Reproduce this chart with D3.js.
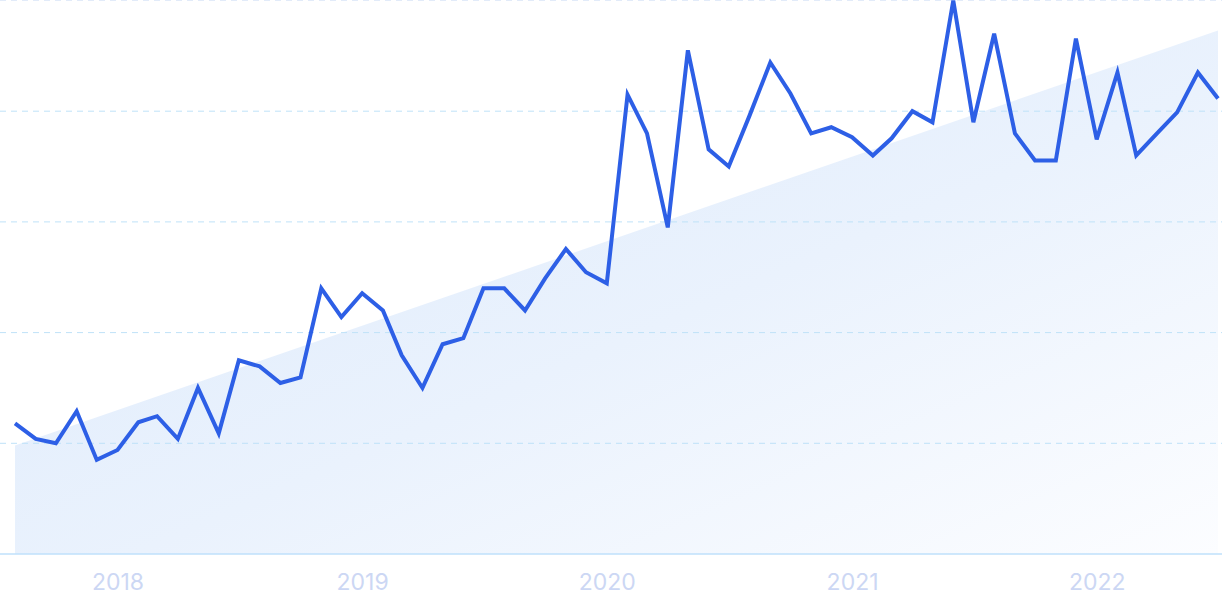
<!DOCTYPE html>
<html>
<head>
<meta charset="utf-8">
<script src="https://cdn.jsdelivr.net/npm/d3@7"></script>
<style>
  html, body { margin: 0; padding: 0; background: #ffffff; }
  svg { display: block; }
</style>
</head>
<body>
<svg id="chart" width="1222" height="610"></svg>
<script>
// ---- data ----
const months = [
  "2017-08","2017-09","2017-10","2017-11","2017-12",
  "2018-01","2018-02","2018-03","2018-04","2018-05","2018-06","2018-07","2018-08","2018-09","2018-10","2018-11","2018-12",
  "2019-01","2019-02","2019-03","2019-04","2019-05","2019-06","2019-07","2019-08","2019-09","2019-10","2019-11","2019-12",
  "2020-01","2020-02","2020-03","2020-04","2020-05","2020-06","2020-07","2020-08","2020-09","2020-10","2020-11","2020-12",
  "2021-01","2021-02","2021-03","2021-04","2021-05","2021-06","2021-07","2021-08","2021-09","2021-10","2021-11","2021-12",
  "2022-01","2022-02","2022-03","2022-04","2022-05","2022-06","2022-07"
];
const values = [
  23.6, 20.8, 20.0, 25.8, 17.0,
  18.8, 23.8, 24.9, 20.8, 30.0, 21.8, 35.0, 33.9, 30.9, 31.9, 48.0, 42.8,
  47.1, 44.0, 35.9, 30.0, 37.9, 39.0, 48.0, 48.0, 44.0, 49.8, 55.1, 50.9,
  48.9, 83.0, 76.0, 59.0, 91.0, 73.1, 70.0, 79.2, 88.8, 83.2, 76.0, 77.1,
  75.3, 72.0, 75.1, 80.0, 78.0, 100, 78.0, 94.0, 76.0, 71.1, 71.1, 93.1,
  74.9, 87.0, 72.0, 76.0, 79.8, 87.0, 82.3
];
const trendMonths = ["2017-08", "2022-07"];
const trendValues = [19.6, 94.6];
const yTicks = [0, 20, 40, 60, 80, 100];
const yearTicks = ["2018", "2019", "2020", "2021", "2022"];

// ---- layout ----
const W = 1222, H = 610;
const svg = d3.select("#chart");
const parse = d3.timeParse("%Y-%m");
const parseYear = d3.timeParse("%Y");

const x = d3.scaleTime()
  .domain([parse(months[0]), parse(months[months.length - 1])])
  .range([15, 1218]);
const y = d3.scaleLinear().domain([0, 100]).range([554, 0.5]);

const defs = svg.append("defs");
const grad = defs.append("linearGradient")
  .attr("id", "areaGrad")
  .attr("x1", "0").attr("y1", "0").attr("x2", "1").attr("y2", "1");
grad.append("stop").attr("offset", "0%").attr("stop-color", "#dbe9fb");
grad.append("stop").attr("offset", "55%").attr("stop-color", "#eaf2fd");
grad.append("stop").attr("offset", "100%").attr("stop-color", "#fcfdff");

// trend area
const trend = trendMonths.map((m, i) => ({ d: parse(m), v: trendValues[i] }));
svg.append("path")
  .datum(trend)
  .attr("fill", "url(#areaGrad)")
  .attr("d", d3.area().x(d => x(d.d)).y0(y(0)).y1(d => y(d.v)));

// gridlines
const grid = svg.append("g");
grid.selectAll("line")
  .data(yTicks.filter(t => t > 0))
  .join("line")
  .attr("x1", 0).attr("x2", W)
  .attr("y1", d => y(d)).attr("y2", d => y(d))
  .attr("stroke", d => d === 100 ? "#e2ebf9" : "#bfe2f8")
  .attr("stroke-width", 1)
  .attr("stroke-dasharray", "6,5");

// baseline
svg.append("line")
  .attr("x1", 0).attr("x2", W)
  .attr("y1", y(0)).attr("y2", y(0))
  .attr("stroke", "#bfe0fb")
  .attr("stroke-width", 1.5);

// line
const data = months.map((m, i) => ({ d: parse(m), v: values[i] }));
svg.append("path")
  .datum(data)
  .attr("fill", "none")
  .attr("stroke", "#2d5fe6")
  .attr("stroke-width", 4)
  .attr("stroke-linejoin", "miter")
  .attr("stroke-linecap", "butt")
  .attr("d", d3.line().x(d => x(d.d)).y(d => y(d.v)));

// x axis labels
const xAxis = d3.axisBottom(x)
  .tickValues(yearTicks.map(s => parseYear(s)))
  .tickFormat(d3.timeFormat("%Y"))
  .tickSize(0)
  .tickPadding(0);
const gx = svg.append("g")
  .attr("transform", "translate(0,582)")
  .call(xAxis);
gx.select(".domain").remove();
gx.selectAll("text")
  .attr("dy", "0.35em")
  .attr("fill", "#ccd7f4")
  .style("font-family", "Inter, 'Noto Sans', sans-serif")
  .style("font-size", "23px")
  .style("font-weight", "400");
</script>
</body>
</html>
